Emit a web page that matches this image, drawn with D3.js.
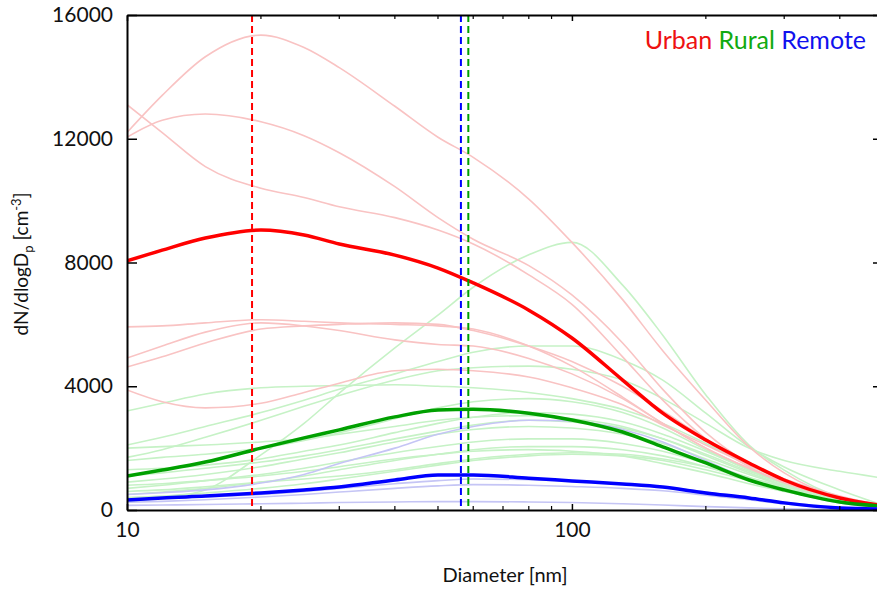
<!DOCTYPE html>
<html>
<head>
<meta charset="utf-8">
<script src="https://cdn.jsdelivr.net/npm/d3@7"></script>
<style>
  body { margin: 0; background: #fff; }
  svg { display: block; font-family: Lato, "Open Sans", sans-serif; }
</style>
</head>
<body>
<svg id="chart" width="877" height="589"></svg>
<script>
// diameters (nm) where every curve is sampled
let diameters = [10, 12, 15, 20, 25, 30, 40, 50, 60, 80, 100, 130, 160, 200, 250, 300, 400, 490];

// individual sites, dN/dlogDp (cm^-3)
let urbanSites = [
  [12200, 13400, 14650, 15350, 14950, 14300, 13050, 12050, 11400, 10050, 8650, 6800, 5150, 3550, 2050, 1200, 400, 160],
  [12050, 12600, 12800, 12550, 12100, 11550, 10450, 9450, 8750, 7900, 6950, 5400, 3900, 2500, 1500, 950, 400, 180],
  [13100, 12200, 11100, 10400, 10100, 9800, 9450, 9050, 8600, 7600, 6650, 4950, 3550, 2300, 1400, 880, 380, 170],
  [5920, 5950, 6050, 6150, 6100, 6050, 6000, 5950, 5850, 5300, 4650, 3650, 2800, 2000, 1350, 900, 400, 150],
  [4620, 4950, 5400, 5850, 5950, 6000, 6050, 6000, 5800, 5300, 4800, 4000, 3200, 2300, 1500, 1000, 420, 160],
  [4910, 5300, 5750, 6050, 5950, 5800, 5500, 5350, 5300, 4900, 4400, 3600, 2800, 2000, 1350, 900, 380, 150],
  [3880, 3500, 3300, 3450, 3800, 4100, 4500, 4550, 4500, 4300, 3950, 3400, 2750, 2100, 1450, 1000, 450, 170]
];

let ruralSites = [
  [250, 400, 650, 1780, 2800, 3780, 5240, 6300, 7200, 8250, 8650, 7270, 5650, 3720, 2100, 1290, 420, 160],
  [3200, 3450, 3750, 3950, 4000, 4020, 4050, 4000, 3950, 3800, 3600, 3250, 2800, 2150, 1450, 950, 400, 150],
  [2100, 2350, 2700, 3150, 3550, 3900, 4400, 4800, 5100, 5300, 5300, 4850, 4200, 3130, 2040, 1390, 650, 200],
  [1700, 1950, 2350, 2900, 3350, 3700, 4200, 4500, 4600, 4650, 4550, 4200, 3600, 2800, 2000, 1600, 1250, 1050],
  [2000, 2050, 2100, 2200, 2300, 2450, 2700, 2900, 3000, 3050, 2950, 2700, 2300, 1750, 1200, 800, 330, 120],
  [1600, 1700, 1800, 2000, 2250, 2500, 2950, 3300, 3500, 3600, 3500, 3150, 2650, 1950, 1300, 850, 350, 130],
  [900, 1000, 1150, 1400, 1650, 1850, 2200, 2450, 2600, 2700, 2650, 2450, 2150, 1650, 1150, 780, 320, 120],
  [700, 800, 950, 1150, 1350, 1550, 1850, 2050, 2200, 2300, 2300, 2150, 1900, 1500, 1050, 700, 300, 110],
  [500, 580, 700, 900, 1100, 1300, 1600, 1800, 1950, 2050, 2050, 1950, 1750, 1400, 1000, 700, 300, 110],
  [1100, 1200, 1350, 1550, 1750, 1950, 2300, 2550, 2750, 2900, 2850, 2650, 2300, 1800, 1250, 850, 350, 130],
  [400, 450, 550, 700, 850, 1000, 1250, 1450, 1600, 1750, 1800, 1750, 1600, 1300, 950, 650, 280, 100],
  [800, 850, 950, 1100, 1250, 1400, 1650, 1800, 1900, 1950, 1900, 1750, 1500, 1200, 850, 600, 260, 100],
  [1300, 1350, 1450, 1650, 1900, 2100, 2500, 2800, 3000, 3150, 3100, 2850, 2450, 1900, 1300, 900, 380, 140],
  [600, 650, 750, 900, 1000, 1100, 1300, 1500, 1650, 1800, 1850, 1800, 1650, 1400, 1050, 750, 330, 120]
];

let remoteSites = [
  [500, 560, 650, 870, 1150, 1500, 2000, 2450, 2700, 2900, 2880, 2600, 2200, 1600, 1000, 650, 230, 80],
  [350, 380, 420, 500, 600, 700, 850, 950, 1000, 980, 930, 850, 750, 580, 400, 250, 90, 30],
  [250, 280, 330, 420, 500, 580, 700, 780, 820, 800, 760, 700, 620, 480, 330, 200, 70, 20],
  [150, 160, 180, 200, 220, 240, 260, 270, 270, 260, 240, 200, 160, 110, 70, 40, 15, 5]
];

// campaign means
let urbanMean = [8050, 8400, 8790, 9050, 8890, 8600, 8240, 7820, 7340, 6460, 5560, 4200, 3130, 2260, 1520, 970, 390, 160];
let ruralMean = [1100, 1290, 1550, 2000, 2330, 2590, 3010, 3230, 3260, 3130, 2910, 2520, 2040, 1520, 970, 650, 260, 130];
let remoteMean = [320, 390, 450, 550, 650, 745, 970, 1130, 1130, 1030, 940, 840, 740, 550, 390, 230, 65, 30];

// mode diameters (dashed lines)
let modeNames = ["Urban", "Remote", "Rural"];
let modeDiameters = [19.1, 56.3, 58.5];

let yTicks = [0, 4000, 8000, 12000, 16000];
let xTicks = [10, 100];
let xMinorTicks = [20, 30, 40, 50, 60, 70, 80, 90, 200, 300, 400];

let colors = { Urban: "#ff0000", Rural: "#00a000", Remote: "#0000ff" };
let faint = { Urban: "#f9c3c3", Rural: "#c6f2c6", Remote: "#c5c5f5" };
let legendColors = { Urban: "#ee1111", Rural: "#11aa11", Remote: "#1111ee" };

let svg = d3.select("#chart");
let plotLeft = 127, plotRight = 879, plotTop = 15, plotBottom = 510;

let x = d3.scaleLog().domain([10, 490]).range([plotLeft, plotRight]);
let y = d3.scaleLinear().domain([0, 16000]).range([plotBottom, plotTop]);

let line = d3.line()
    .x((d, i) => x(diameters[i]))
    .y(d => y(d))
    .curve(d3.curveMonotoneX);

svg.append("clipPath").attr("id", "plot")
    .append("rect").attr("x", plotLeft).attr("y", plotTop)
    .attr("width", plotRight - plotLeft).attr("height", plotBottom - plotTop);

let plot = svg.append("g").attr("clip-path", "url(#plot)");

let drawSites = (rows, name) => {
    plot.append("g").selectAll("path")
        .data(rows)
        .enter()
        .append("path")
        .attr("d", line)
        .attr("fill", "none")
        .attr("stroke", faint[name])
        .attr("stroke-width", 1.6);
};

drawSites(ruralSites, "Rural");
drawSites(urbanSites, "Urban");
drawSites(remoteSites, "Remote");

let means = [[urbanMean, "Urban"], [ruralMean, "Rural"], [remoteMean, "Remote"]];
plot.append("g").selectAll("path")
    .data(means)
    .enter()
    .append("path")
    .attr("d", d => line(d[0]))
    .attr("fill", "none")
    .attr("stroke", d => colors[d[1]])
    .attr("stroke-width", 3.5);

plot.append("g").selectAll("line")
    .data(modeDiameters)
    .enter()
    .append("line")
    .attr("x1", d => x(d)).attr("x2", d => x(d))
    .attr("y1", plotTop).attr("y2", plotBottom)
    .attr("stroke", (d, i) => colors[modeNames[i]])
    .attr("stroke-width", 2)
    .attr("stroke-dasharray", "7,4");

// axes
let axisBottom = d3.axisBottom(x).tickValues(xTicks).tickFormat(d3.format("d")).tickSizeInner(-6).tickSizeOuter(0).tickPadding(12);
let axisTop = d3.axisTop(x).tickValues(xTicks).tickFormat("").tickSizeInner(-6).tickSizeOuter(0);
let axisLeft = d3.axisLeft(y).tickValues(yTicks).tickFormat(d3.format("d")).tickSizeInner(-10).tickSizeOuter(0).tickPadding(14);
let axisRight = d3.axisRight(y).tickValues(yTicks).tickFormat("").tickSizeInner(-6).tickSizeOuter(0);

let gb = svg.append("g").attr("transform", `translate(0,${plotBottom})`).call(axisBottom);
let gt = svg.append("g").attr("transform", `translate(0,${plotTop})`).call(axisTop);
let gl = svg.append("g").attr("transform", `translate(${plotLeft},0)`).call(axisLeft);
let gr = svg.append("g").attr("transform", `translate(${plotRight},0)`).call(axisRight);

[gb, gt, gl, gr].forEach(g => {
    g.select(".domain").attr("stroke", "#000").attr("stroke-width", 2);
    g.selectAll(".tick line").attr("stroke", "#000").attr("stroke-width", 1.5);
    g.selectAll("text").attr("fill", "#111").style("font-size", "21px").style("font-family", "Lato, sans-serif");
});

// minor ticks on bottom and top
svg.append("g").selectAll("line")
    .data(xMinorTicks)
    .enter()
    .append("line")
    .attr("x1", d => x(d)).attr("x2", d => x(d))
    .attr("y1", plotBottom).attr("y2", plotBottom - 4)
    .attr("stroke", "#000").attr("stroke-width", 1.2);
svg.append("g").selectAll("line")
    .data(xMinorTicks)
    .enter()
    .append("line")
    .attr("x1", d => x(d)).attr("x2", d => x(d))
    .attr("y1", plotTop).attr("y2", plotTop + 4)
    .attr("stroke", "#000").attr("stroke-width", 1.2);

// axis titles
svg.append("text")
    .attr("x", 505).attr("y", 582)
    .attr("text-anchor", "middle")
    .style("font-size", "20px")
    .attr("fill", "#111")
    .text("Diameter [nm]");

let yl = svg.append("text")
    .attr("transform", "translate(28,264) rotate(-90)")
    .attr("text-anchor", "middle")
    .style("font-size", "19px")
    .attr("fill", "#111");
yl.append("tspan").text("dN/dlogD");
yl.append("tspan").attr("dy", 5).style("font-size", "13px").text("p");
yl.append("tspan").attr("dy", -5).text(" [cm");
yl.append("tspan").attr("dy", -7).style("font-size", "13px").text("-3");
yl.append("tspan").attr("dy", 7).text("]");

// legend
let legend = svg.append("text")
    .attr("x", 866).attr("y", 49)
    .attr("text-anchor", "end")
    .style("font-size", "25px");
["Urban", "Rural", "Remote"].forEach((name, i) => {
    legend.append("tspan")
        .attr("fill", legendColors[name])
        .text((i > 0 ? " " : "") + name);
});
</script>
</body>
</html>
